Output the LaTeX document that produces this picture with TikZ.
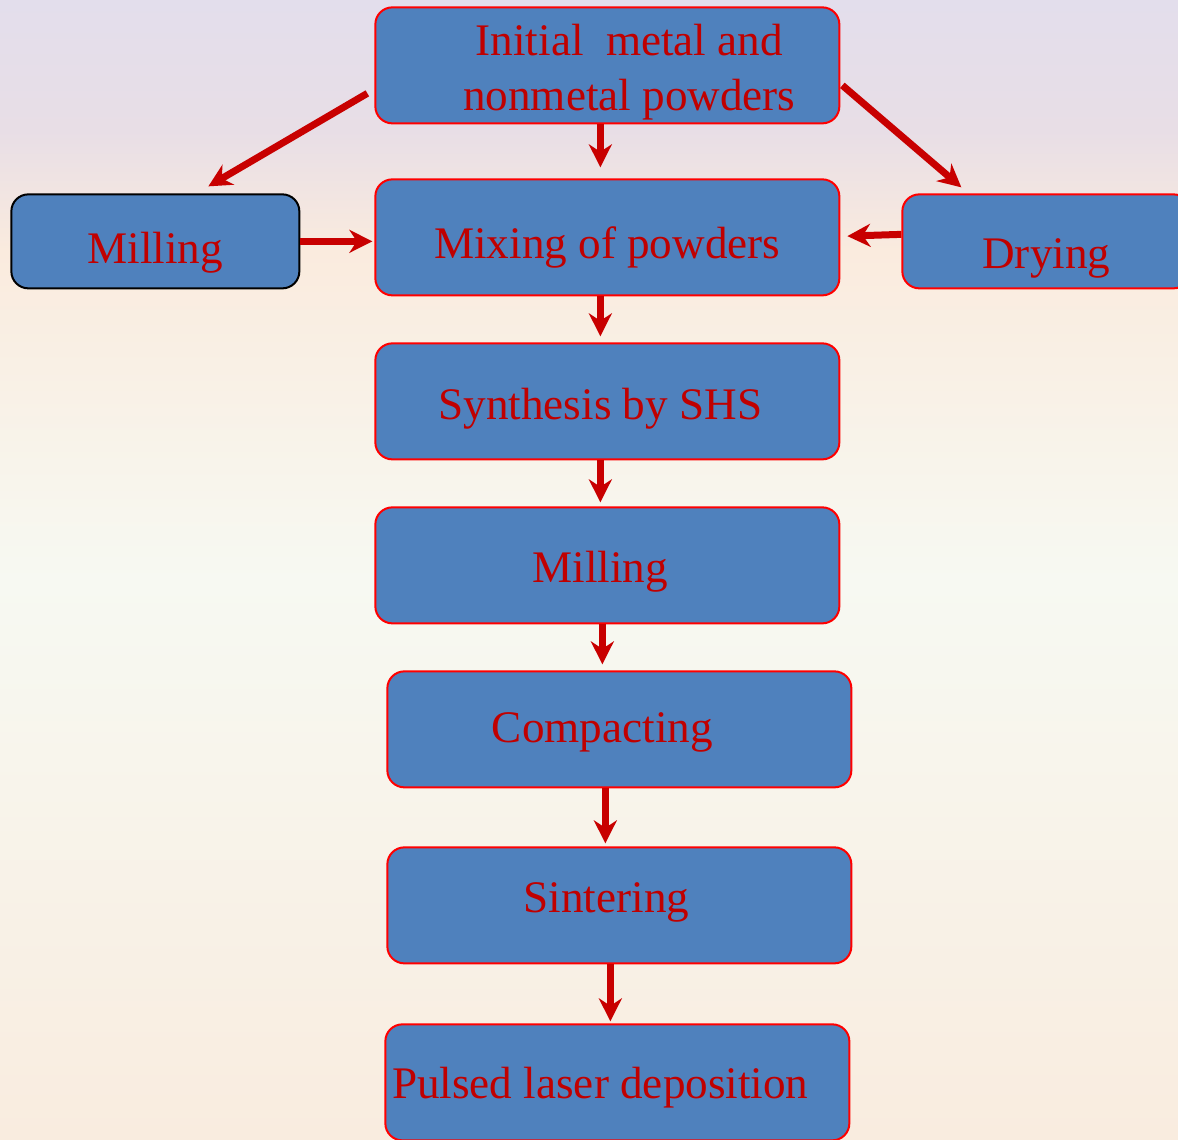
\documentclass[tikz,border=0pt]{standalone}
\usepackage{fontspec}
\setmainfont{Liberation Serif}
\usetikzlibrary{arrows.meta}

\definecolor{boxblue}{RGB}{79,129,189}
\definecolor{textred}{RGB}{192,0,0}
\definecolor{edgered}{RGB}{255,0,0}
\definecolor{arrowred}{RGB}{200,0,0}
\definecolor{bgtop}{RGB}{227,222,236}
\definecolor{bgmauve}{RGB}{232,222,230}
\definecolor{bgpeach}{RGB}{250,235,222}
\definecolor{bgmiddle}{RGB}{247,249,242}
\definecolor{bgbottom}{RGB}{249,236,223}

\pgfdeclareverticalshading{paper}{100bp}{color(0bp)=(bgbottom); color(25bp)=(bgbottom);
	color(49.5bp)=(bgmiddle); color(64bp)=(bgpeach); color(69.3bp)=(bgmauve);
	color(75bp)=(bgtop); color(100bp)=(bgtop)}

\begin{document}
\begin{tikzpicture}
	[font=\fontsize{25.7}{31.3}\selectfont,
		block/.style	={rectangle, anchor=center, rounded corners=3.4mm, draw=edgered, line width=0.4mm,
									fill=boxblue, text=textred, align=center,
									minimum width=92.8mm, minimum height=23.2mm},
		side/.style		={block, minimum width=57.6mm, minimum height=18.8mm},
		low/.style		={text height=#1, text depth=0pt},
		line/.style		={draw=arrowred, line width=1.4mm, -{Stealth[length=4.6mm,width=4.6mm]}}
	]
\useasboundingbox (0,0) rectangle (235.6mm,-227.8mm);
\shade [shading=paper] (0,0) rectangle (235.6mm,-227.8mm);
\clip (0,0) rectangle (235.6mm,-227.8mm);
\matrix [anchor=north west, inner sep=0pt, row sep=9.2mm, column sep=0mm] at (2mm,-1.2mm)
	{
		% row 1
			&[14.8mm]
			\node [block, low=51.2pt] (initial)		{\hspace*{8.8mm}Initial\ \ metal and\\\hspace*{8.8mm}nonmetal powders}; &[9.8mm]
		\\[1.6mm]
		% row 2
			\node [side, draw=black, low=25pt, yshift=-0.8mm] (milling 1)	{Milling}; &
			\node [block, low=23.9pt] (mixing)		{Mixing of powders}; &
			\node [side, low=30.7pt, yshift=-0.8mm] (drying)		{Drying};
		\\
		% row 3
			&
			\node [block, low=20.5pt] (synthesis)	{Synthesis by SHS\hspace*{2.8mm}}; &
		\\
		% row 4
			&
			\node [block, low=19.3pt] (milling 2)	{Milling\hspace*{2.8mm}}; &
		\\
		% row 5
			&
			\node [block, low=15.4pt, xshift=2.4mm] (compacting)	{Compacting\hspace*{6.8mm}}; &
		\\[2.4mm]
		% row 6
			&
			\node [block, low=8pt, xshift=2.4mm] (sintering)	{Sintering\hspace*{5.2mm}}; &
		\\[2.6mm]
		% row 7
			&
			\node [block, low=18.2pt, xshift=2mm] (deposition)	{Pulsed laser deposition\hspace*{6.8mm}}; &
		\\
	};
\begin{scope}[every path/.style=line]

	\path	[shorten >=2.2mm]	([xshift=-1.4mm]initial.south)	-- ([xshift=-1.4mm]mixing.north);
	\path					([shift={(-1.4mm,-5.6mm)}]initial.west)	-- ([shift={(10.6mm,1.4mm)}]milling 1.north);
	\path					([shift={(0.4mm,-4mm)}]initial.east)	-- ([shift={(-17mm,1.2mm)}]drying.north);

	\path	[shorten >=0.4mm]	(milling 1.east)	-- (milling 1.east -| mixing.west);
	\path	[shorten >=1.4mm]	([yshift=1.4mm]drying.west)	-- ([yshift=0.2mm]mixing.east);

	\path	[shorten >=1.2mm]	([xshift=-1.4mm]mixing.south)	-- ([xshift=-1.4mm]synthesis.north);
	\path	[shorten >=0.8mm]	([xshift=-1.4mm]synthesis.south)	-- ([xshift=-1.4mm]milling 2.north);
	\path	[shorten >=1.2mm]	([xshift=-1mm]milling 2.south)	-- ([xshift=-1mm]milling 2.south |- compacting.north);
	\path	[shorten >=0.6mm]	([xshift=-2.8mm]compacting.south)	-- ([xshift=-2.8mm]sintering.north);
	\path	[shorten >=0.4mm]	([xshift=-1.8mm]sintering.south)	-- ([xshift=-1.8mm]sintering.south |- deposition.north);
\end{scope}
\end{tikzpicture}
\end{document}
